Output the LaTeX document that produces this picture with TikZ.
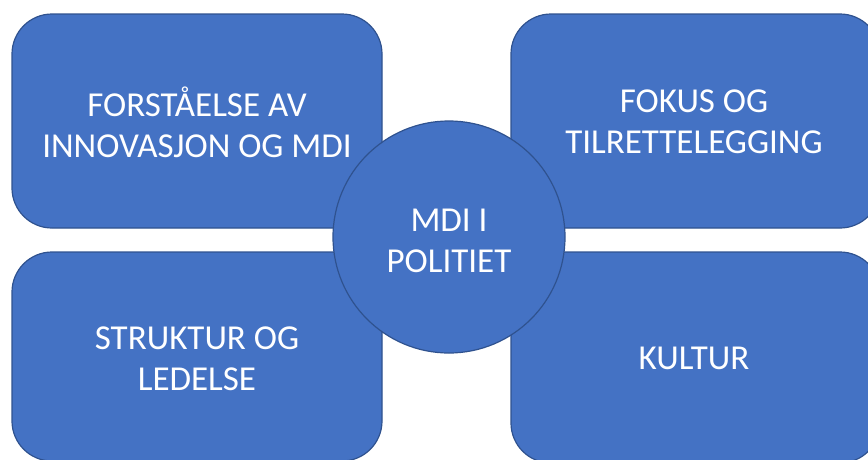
\documentclass[tikz,border=0pt]{standalone}
\usepackage{fontspec}
\setmainfont{Carlito}
\definecolor{boxblue}{HTML}{4472C4}
\definecolor{edgeblue}{HTML}{2F528F}
\begin{document}
\begin{tikzpicture}[x=1pt,y=-1pt,
  card/.style={fill=boxblue,draw=edgeblue,line width=1.2pt,rounded corners=40pt},
  lbl/.style={text=white,align=center,font=\fontsize{35}{41}\selectfont},
  hub/.style={circle,fill=boxblue,draw=edgeblue,line width=1.2pt,minimum size=232pt,inner sep=0pt}]
\useasboundingbox (0,0) rectangle (868,459);
\begin{scope}
\clip (0,0) rectangle (868,459);
\draw[card] (12,14) rectangle (382,228);
\draw[card] (511,14) rectangle (880,228);
\draw[card] (12,252) rectangle (382,461);
\draw[card] (511,252) rectangle (880,463);
\end{scope}
\node[lbl] (tl) at (197,122) {FORSTÅELSE AV\\INNOVASJON OG MDI};
\node[lbl] (tr) at (694,122) {FOKUS OG\\TILRETTELEGGING};
\node[lbl] (bl) at (197,359) {STRUKTUR OG\\LEDELSE};
\node[lbl] (br) at (694,358) {KULTUR};
\node[hub] (c) at (449,237) {};
\node[lbl] (ct) at (449,241) {MDI I\\POLITIET};
\end{tikzpicture}
\end{document}
